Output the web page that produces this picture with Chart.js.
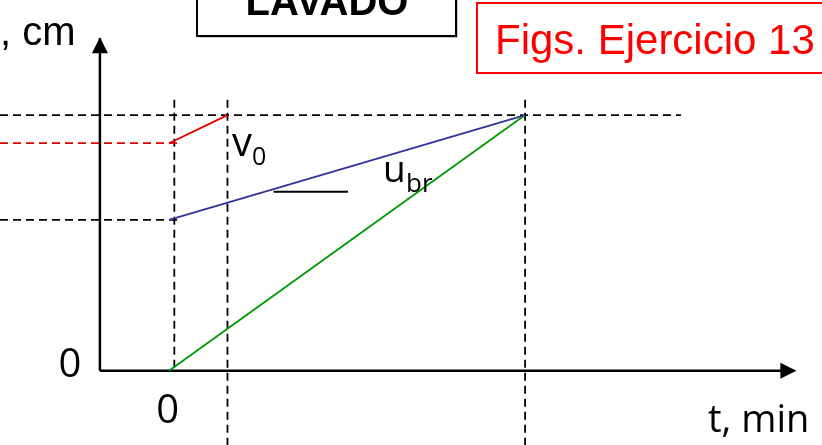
<!DOCTYPE html>
<html>
<head>
<meta charset="utf-8">
<script src="https://cdn.jsdelivr.net/npm/chart.js@4"></script>
<style>
  html, body { margin: 0; padding: 0; background: #fff; }
  #wrap { position: relative; width: 822px; height: 445px; }
</style>
</head>
<body>
<div id="wrap"><canvas id="lavado"></canvas></div>
<script>
// key times (min) and heights (cm)
const T_START = 0;
const T_V0 = 1.6;
const T_END = 10;
const Z_TOP = 10;
const Z_V0 = 8.9;
const Z_UBR = 5.9;

// visible window
const T_MIN = -4.82, T_MAX = 18.38;
const Z_MIN = -2.9, Z_MAX = 14.5;

// solid curves
const redLine = [[-0.05, Z_V0], [T_V0, Z_TOP]];
const blueLine = [[-0.05, Z_UBR], [T_END, Z_TOP]];
const greenLine = [[-0.05, 0], [T_END, Z_TOP]];
const slopeMark = [[2.9, 7], [5.0, 7]];

// dashed guides
const guideTop = [[T_MIN, Z_TOP], [14.4, Z_TOP]];
const guideV0 = [[T_MIN, Z_V0], [0.3, Z_V0]];
const guideUbr = [[T_MIN, Z_UBR], [0.3, Z_UBR]];
const guideT0 = [[0.1, 10.6], [0.1, 0]];
const guideTV0 = [[T_V0, 10.6], [T_V0, Z_MIN]];
const guideTEnd = [[T_END, 10.6], [T_END, Z_MIN]];

// axes (last point is the arrow tip)
const axisT = [[-2, 0], [17.6, 0]];
const axisZ = [[-2, 0], [-2, 13]];

const tTick = '0';
const zTick = '0';

const ARIAL = '"Liberation Sans", Arial, sans-serif';
const SANS = '"Open Sans", "Noto Sans", sans-serif';

const pts = arr => arr.map(([x, y]) => ({ x, y }));

function line(data, color, width, dash, order) {
  return {
    data: pts(data),
    showLine: true,
    borderColor: color,
    borderWidth: width,
    borderDash: dash || [],
    pointRadius: 0,
    fill: false,
    order: order
  };
}

const DASH = [8, 5];

// arrow heads, boxes and labels
const extras = {
  id: 'extras',
  afterDatasetsDraw(chart) {
    const ctx = chart.ctx;
    const sx = chart.scales.x, sy = chart.scales.y;

    // arrow heads at the axis ends
    const tip = i => chart.getDatasetMeta(i).data[1];
    const tx = tip(chart.data.datasets.length - 2);
    const tz = tip(chart.data.datasets.length - 1);
    ctx.save();
    ctx.fillStyle = '#000';
    ctx.beginPath();
    ctx.moveTo(tx.x + 2, tx.y);
    ctx.lineTo(tx.x - 14, tx.y - 8);
    ctx.lineTo(tx.x - 14, tx.y + 8);
    ctx.closePath();
    ctx.fill();
    ctx.beginPath();
    ctx.moveTo(tz.x, tz.y - 1);
    ctx.lineTo(tz.x - 8, tz.y + 15);
    ctx.lineTo(tz.x + 8, tz.y + 15);
    ctx.closePath();
    ctx.fill();

    // title box
    ctx.fillStyle = '#c8c8c8';
    ctx.fillRect(199, 36, 259, 2);
    ctx.fillRect(456, -2, 2, 40);
    ctx.strokeStyle = '#000';
    ctx.lineWidth = 2;
    ctx.fillStyle = '#fff';
    ctx.fillRect(197, -5, 259, 41);
    ctx.strokeRect(197, -5, 259, 41);
    ctx.fillStyle = '#000';
    ctx.font = 'bold 40px ' + ARIAL;
    ctx.textAlign = 'center';
    ctx.textBaseline = 'alphabetic';
    ctx.fillText('LAVADO', 327, 15);

    // exercise box
    ctx.strokeStyle = '#ff0000';
    ctx.strokeRect(477, 3, 400, 70);
    ctx.fillStyle = '#ff0000';
    ctx.font = '42px ' + ARIAL;
    ctx.textAlign = 'left';
    ctx.fillText('Figs. Ejercicio 13', 495, 54);

    // axis titles
    ctx.fillStyle = '#000';
    ctx.font = '40px ' + ARIAL;
    ctx.fillText(', cm', 0, 45);
    ctx.font = '38px ' + SANS;
    ctx.fillText('t, min', 708, 432);

    // origin ticks
    ctx.textAlign = 'center';
    ctx.font = '40px ' + SANS;
    ctx.fillText(zTick, sx.getPixelForValue(-2) - 30, sy.getPixelForValue(0) + 6);
    ctx.fillText(tTick, sx.getPixelForValue(0) - 3, sy.getPixelForValue(0) + 52);

    // slope labels
    ctx.textAlign = 'left';
    ctx.font = '40px ' + SANS;
    ctx.fillText('v', 232, 156);
    ctx.font = '25px ' + SANS;
    ctx.fillText('0', 252, 165);
    ctx.font = '37px ' + SANS;
    ctx.fillText('u', 383, 182);
    ctx.font = '26px ' + SANS;
    ctx.fillText('br', 406, 192);
    ctx.restore();
  }
};

new Chart(document.getElementById('lavado'), {
  type: 'scatter',
  data: {
    datasets: [
      line(redLine, '#dd0000', 1.8, null, 1),
      line(blueLine, '#333399', 1.8, null, 1),
      line(greenLine, '#009900', 1.8, null, 1),
      line(slopeMark, '#000', 2, null, 1),
      line(guideTop, '#000', 1.8, DASH, 3),
      line(guideV0, '#dd0000', 1.8, DASH, 3),
      line(guideUbr, '#000', 1.8, DASH, 3),
      line(guideT0, '#000', 1.8, DASH, 3),
      line(guideTV0, '#000', 1.8, DASH, 3),
      line(guideTEnd, '#000', 1.8, DASH, 3),
      line(axisT, '#000', 2.5, null, 2),
      line(axisZ, '#000', 2.5, null, 2)
    ]
  },
  options: {
    responsive: true,
    maintainAspectRatio: false,
    animation: false,
    layout: { padding: 0 },
    plugins: {
      legend: { display: false },
      tooltip: { enabled: false }
    },
    scales: {
      x: { type: 'linear', min: T_MIN, max: T_MAX, display: false },
      y: { type: 'linear', min: Z_MIN, max: Z_MAX, display: false }
    }
  },
  plugins: [extras]
});
</script>
</body>
</html>
